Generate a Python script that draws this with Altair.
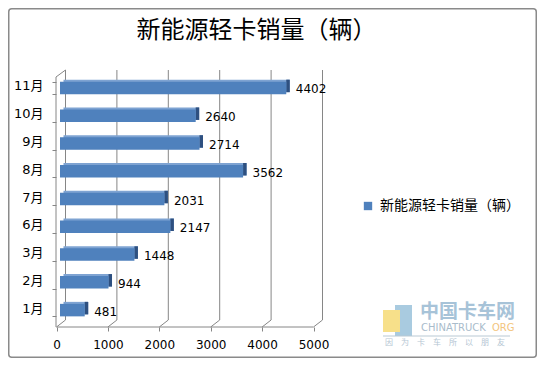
import altair as alt
import pandas as pd

months = ["11月", "10月", "9月", "8月", "7月", "6月", "3月", "2月", "1月"]
sales = [4402, 2640, 2714, 3562, 2031, 2147, 1448, 944, 481]
series_name = "新能源轻卡销量（辆）"
x_ticks = [0, 1000, 2000, 3000, 4000, 5000]

df = pd.DataFrame({"month": months, "sales": sales, "series": [series_name] * len(months)})
grid_df = pd.DataFrame({"t": x_ticks})
floor_df = pd.DataFrame({"a": [x_ticks[0]], "b": [x_ticks[-1]]})
one = pd.DataFrame({"k": [0]})

GRID = "#868686"
NUM_FONT = "DejaVu Sans, Noto Sans CJK SC"
CJK_FONT = "Noto Sans CJK SC"

xs = alt.Scale(domain=[0, 5000], nice=False, zero=True)
ys = alt.Scale(domain=months, paddingInner=0.55, paddingOuter=0.275)

border = alt.Chart(one).mark_rect(
    fill="transparent", stroke="#8a8a8a", strokeWidth=1.5, cornerRadius=3
).encode(
    x=alt.value(-51.25), x2=alt.value(476.25), y=alt.value(-65.25), y2=alt.value(283.25)
)

title = alt.Chart(one).mark_text(
    text=series_name, font=CJK_FONT, fontSize=24, color="black",
    align="center", baseline="middle",
).encode(x=alt.value(196.5), y=alt.value(-43))

back_grid = alt.Chart(grid_df).mark_rule(color=GRID, strokeWidth=1, xOffset=5.5).encode(
    x=alt.X("t:Q", scale=xs), y=alt.value(-4), y2=alt.value(246)
)
floor_diag = alt.Chart(grid_df).mark_rule(
    color=GRID, strokeWidth=1, xOffset=5.5, x2Offset=-3.5
).encode(
    x=alt.X("t:Q", scale=xs), x2="t:Q", y=alt.value(246), y2=alt.value(253)
)
floor_line = alt.Chart(floor_df).mark_rule(
    color=GRID, strokeWidth=1, xOffset=-3.5, x2Offset=-3.5
).encode(
    x=alt.X("a:Q", scale=xs), x2="b:Q", y=alt.value(253)
)
yline = alt.Chart(one).mark_rule(color=GRID, strokeWidth=1).encode(
    x=alt.value(-4), y=alt.value(3), y2=alt.value(253)
)
ydiag = alt.Chart(one).mark_rule(color=GRID, strokeWidth=1).encode(
    x=alt.value(-4), x2=alt.value(5.5), y=alt.value(3), y2=alt.value(-4)
)

def yenc():
    return alt.Y(
        "month:N", scale=ys,
        axis=alt.Axis(
            title=None, domain=False, ticks=True, tickBand="extent", tickOffset=3,
            offset=4, tickSize=4, tickColor=GRID, labelPadding=9, labelOffset=-2,
            labelFont=NUM_FONT, labelFontSize=13, labelColor="black", grid=False,
            zindex=1,
        ),
    )

def xenc(field):
    return alt.X(
        field, scale=xs,
        axis=alt.Axis(
            title=None, values=x_ticks, domain=False, grid=False, tickOffset=-3.5,
            offset=3, tickSize=4, tickColor=GRID, labelPadding=8, format="d",
            labelFlush=False, labelOverlap=False,
            labelFont=NUM_FONT, labelFontSize=12, labelColor="black", zindex=1,
        ),
    )

top_face = alt.Chart(df).mark_bar(color="#7ea3d2", xOffset=3.5, yOffset=-2).encode(
    x=xenc("sales:Q"), y=yenc()
)
cap = alt.Chart(df).mark_bar(color="#2e5080", x2Offset=3.5, yOffset=-2).encode(
    x=xenc("sales:Q"), x2="sales:Q", y=yenc()
)
bars = alt.Chart(df).mark_bar().encode(
    x=xenc("sales:Q"),
    y=yenc(),
    color=alt.Color(
        "series:N",
        scale=alt.Scale(domain=[series_name], range=["#4f81bd"]),
        legend=alt.Legend(
            title=None, orient="none", legendX=301, legendY=125, symbolType="square",
            symbolSize=70, symbolStrokeWidth=0, labelFont=CJK_FONT, labelFontSize=14,
            labelColor="black", padding=0, labelOffset=5,
        ),
    ),
)
labels = alt.Chart(df).mark_text(
    align="left", baseline="middle", dx=9.5, dy=1.5, font=NUM_FONT, fontSize=12, color="black"
).encode(
    x=xenc("sales:Q"), y=yenc(), text="sales:Q"
)

wm1 = alt.Chart(one).mark_text(text="中国卡车网", font=CJK_FONT, fontSize=19, fontWeight="bold",
                               color="#a7c3d8", align="left", baseline="middle").encode(
    x=alt.value(360), y=alt.value(238))
wm2 = alt.Chart(one).mark_text(text="CHINATRUCK", font="DejaVu Sans", fontSize=10,
                               color="#a9bccb", align="left", baseline="middle").encode(
    x=alt.value(361), y=alt.value(254))
wm3 = alt.Chart(one).mark_text(text="ORG", font="DejaVu Sans", fontSize=10,
                               color="#f3c57d", align="left", baseline="middle").encode(
    x=alt.value(432), y=alt.value(254))
wm4 = alt.Chart(one).mark_text(text="因　为　卡　车　所　以　朋　友", font=CJK_FONT, fontSize=8,
                               color="#b5c6d3", align="left", baseline="middle").encode(
    x=alt.value(325), y=alt.value(269))
wm_line = alt.Chart(one).mark_rule(color="#b9c9d4", strokeWidth=1).encode(
    x=alt.value(323), x2=alt.value(450), y=alt.value(262))
wm_icon_a = alt.Chart(one).mark_rect(color="#f7e08a").encode(
    x=alt.value(323), x2=alt.value(340), y=alt.value(236), y2=alt.value(258))
wm_icon_b = alt.Chart(one).mark_rect(color="#a9cbe0").encode(
    x=alt.value(335), x2=alt.value(352), y=alt.value(231), y2=alt.value(262))

chart = alt.layer(
    border, title, wm_icon_b, wm_icon_a, wm1, wm2, wm3, wm_line, wm4,
    back_grid, floor_diag, floor_line, yline, ydiag,
    top_face, cap, bars, labels,
).properties(
    width=257, height=250,
    autosize=alt.AutoSizeParams(type="none"),
    padding={"left": 52, "top": 66, "right": 220, "bottom": 34},
    background="white",
).configure_view(stroke=None)

chart.save("out.html", embed_options={"renderer": "svg", "actions": False})
